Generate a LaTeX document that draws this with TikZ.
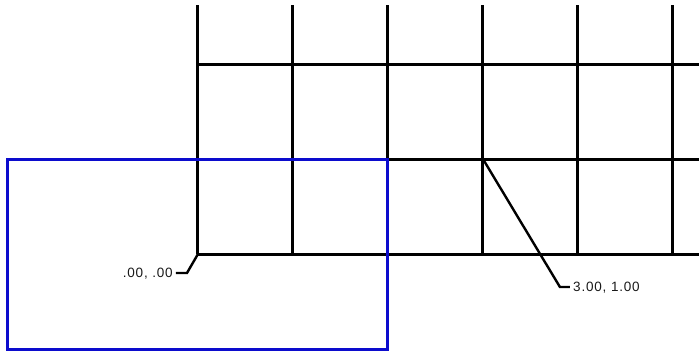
\documentclass[tikz,border=0pt]{standalone}
\usepackage{fontspec}
\setmainfont{Liberation Sans}
\usetikzlibrary{positioning}
\definecolor{rectblue}{RGB}{12,12,205}
\tikzset{
  gridline/.style={line width=3pt},
  leader/.style={line width=2.4pt},
  ptlabel/.style={font=\fontsize{13.5}{15}\selectfont\addfontfeature{LetterSpace=6}, inner sep=1pt, text=black!90}
}

\begin{document}
\begin{tikzpicture}[x=95pt,y=95pt]
  \useasboundingbox (-2.084,-1.042) rectangle (5.274,2.674);
  % grid
  \foreach \i in {0,...,5}
    \draw[gridline] (\i,0) -- (\i,2.62);
  \foreach \j in {0,1,2}
    \draw[gridline] (0,\j) -- (5.3,\j);
  % blue rectangle
  \draw[rectblue, line width=3pt] (-2,-1) rectangle (2,1);
  % point labels
  \coordinate (orig) at (0,0);
  \coordinate (pt31) at (3,1);
  \coordinate (bend0) at (-0.116,-0.2);
  \coordinate (end0) at (-0.232,-0.2);
  \coordinate (bend1) at (3.81,-0.347);
  \coordinate (end1) at (3.916,-0.347);
  \node[ptlabel, left=2pt of end0, yshift=-1pt] (lab0) {.00, .00};
  \node[ptlabel, right=2pt of end1, yshift=-1pt] (lab1) {3.00, 1.00};
  \draw[leader] (orig) -- (bend0) -- (end0);
  \draw[leader] (pt31) -- (bend1) -- (end1);
\end{tikzpicture}
\end{document}
